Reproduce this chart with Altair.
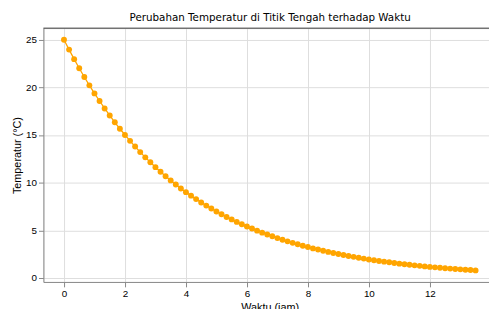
import altair as alt
import pandas as pd

waktu = [0.000, 0.167, 0.333, 0.500, 0.667, 0.833, 1.000, 1.167, 1.333, 1.500,
         1.667, 1.833, 2.000, 2.167, 2.333, 2.500, 2.667, 2.833, 3.000, 3.167,
         3.333, 3.500, 3.667, 3.833, 4.000, 4.167, 4.333, 4.500, 4.667, 4.833,
         5.000, 5.167, 5.333, 5.500, 5.667, 5.833, 6.000, 6.167, 6.333, 6.500,
         6.667, 6.833, 7.000, 7.167, 7.333, 7.500, 7.667, 7.833, 8.000, 8.167,
         8.333, 8.500, 8.667, 8.833, 9.000, 9.167, 9.333, 9.500, 9.667, 9.833,
         10.000, 10.167, 10.333, 10.500, 10.667, 10.833, 11.000, 11.167, 11.333, 11.500,
         11.667, 11.833, 12.000, 12.167, 12.333, 12.500, 12.667, 12.833, 13.000, 13.167,
         13.333, 13.500]

temperatur = [25.00, 23.96, 22.96, 22.01, 21.09, 20.21, 19.37, 18.57, 17.79, 17.05,
              16.34, 15.66, 15.01, 14.39, 13.79, 13.21, 12.66, 12.14, 11.63, 11.15,
              10.68, 10.24, 9.81, 9.40, 9.01, 8.64, 8.28, 7.93, 7.60, 7.29,
              6.98, 6.69, 6.41, 6.15, 5.89, 5.65, 5.41, 5.19, 4.97, 4.76,
              4.57, 4.38, 4.19, 4.02, 3.85, 3.69, 3.54, 3.39, 3.25, 3.11,
              2.99, 2.86, 2.74, 2.63, 2.52, 2.41, 2.31, 2.22, 2.13, 2.04,
              1.95, 1.87, 1.79, 1.72, 1.65, 1.58, 1.51, 1.45, 1.39, 1.33,
              1.28, 1.22, 1.17, 1.12, 1.08, 1.03, 0.99, 0.95, 0.91, 0.87,
              0.84, 0.80]

x_ticks = [0, 2, 4, 6, 8, 10, 12, 14]
y_ticks = [0, 5, 10, 15, 20, 25]

df = pd.DataFrame({"t": waktu, "T": temperatur})

FONT = "DejaVu Sans"
ORANGE = "#ffa500"

x_enc = alt.X("t:Q",
              scale=alt.Scale(domain=[-0.675, 13.94], nice=False, zero=False),
              axis=alt.Axis(title="Waktu (jam)", values=x_ticks, format="d",
                            titleX=230, titlePadding=3, titleFontWeight="normal"))
y_enc = alt.Y("T:Q",
              scale=alt.Scale(domain=[-0.41, 26.21], nice=False, zero=False),
              axis=alt.Axis(title="Temperatur (°C)", values=y_ticks, format="d",
                            titlePadding=3, titleFontWeight="normal"))

base = alt.Chart(df).encode(x=x_enc, y=y_enc)

line = base.mark_line(color=ORANGE, strokeWidth=1.3, clip=True)
pts = base.mark_circle(color=ORANGE, size=36, opacity=1, clip=True)

top_spine = alt.Chart(pd.DataFrame({"s": [0]})).mark_rule(
    color="#333333", strokeWidth=1).encode(
    x=alt.value(0), x2=alt.value(453), y=alt.value(0))

chart = alt.layer(line, pts, top_spine).properties(
    width=453,
    height=258,
    title=alt.TitleParams("Perubahan Temperatur di Titik Tengah terhadap Waktu",
                          font=FONT, fontSize=10.5, fontWeight="normal",
                          color="#000000", offset=4, dx=4),
    autosize=alt.AutoSizeParams(type="none"),
    padding={"left": 36, "top": 18, "right": 0, "bottom": 25},
).configure_view(stroke=None).configure_axis(
    labelFont=FONT, titleFont=FONT, labelFontSize=8.5, titleFontSize=8.5,
    titleFontWeight="normal", labelColor="#000000", titleColor="#000000",
    domainColor="#333333", domainWidth=1, tickColor="#333333", tickSize=3.5,
    tickWidth=0.8, grid=True, gridColor="#b0b0b0", gridOpacity=1, gridWidth=1,
    labelPadding=2,
).configure(background="white")

chart.save("out.html", embed_options={"renderer": "svg", "actions": False})
